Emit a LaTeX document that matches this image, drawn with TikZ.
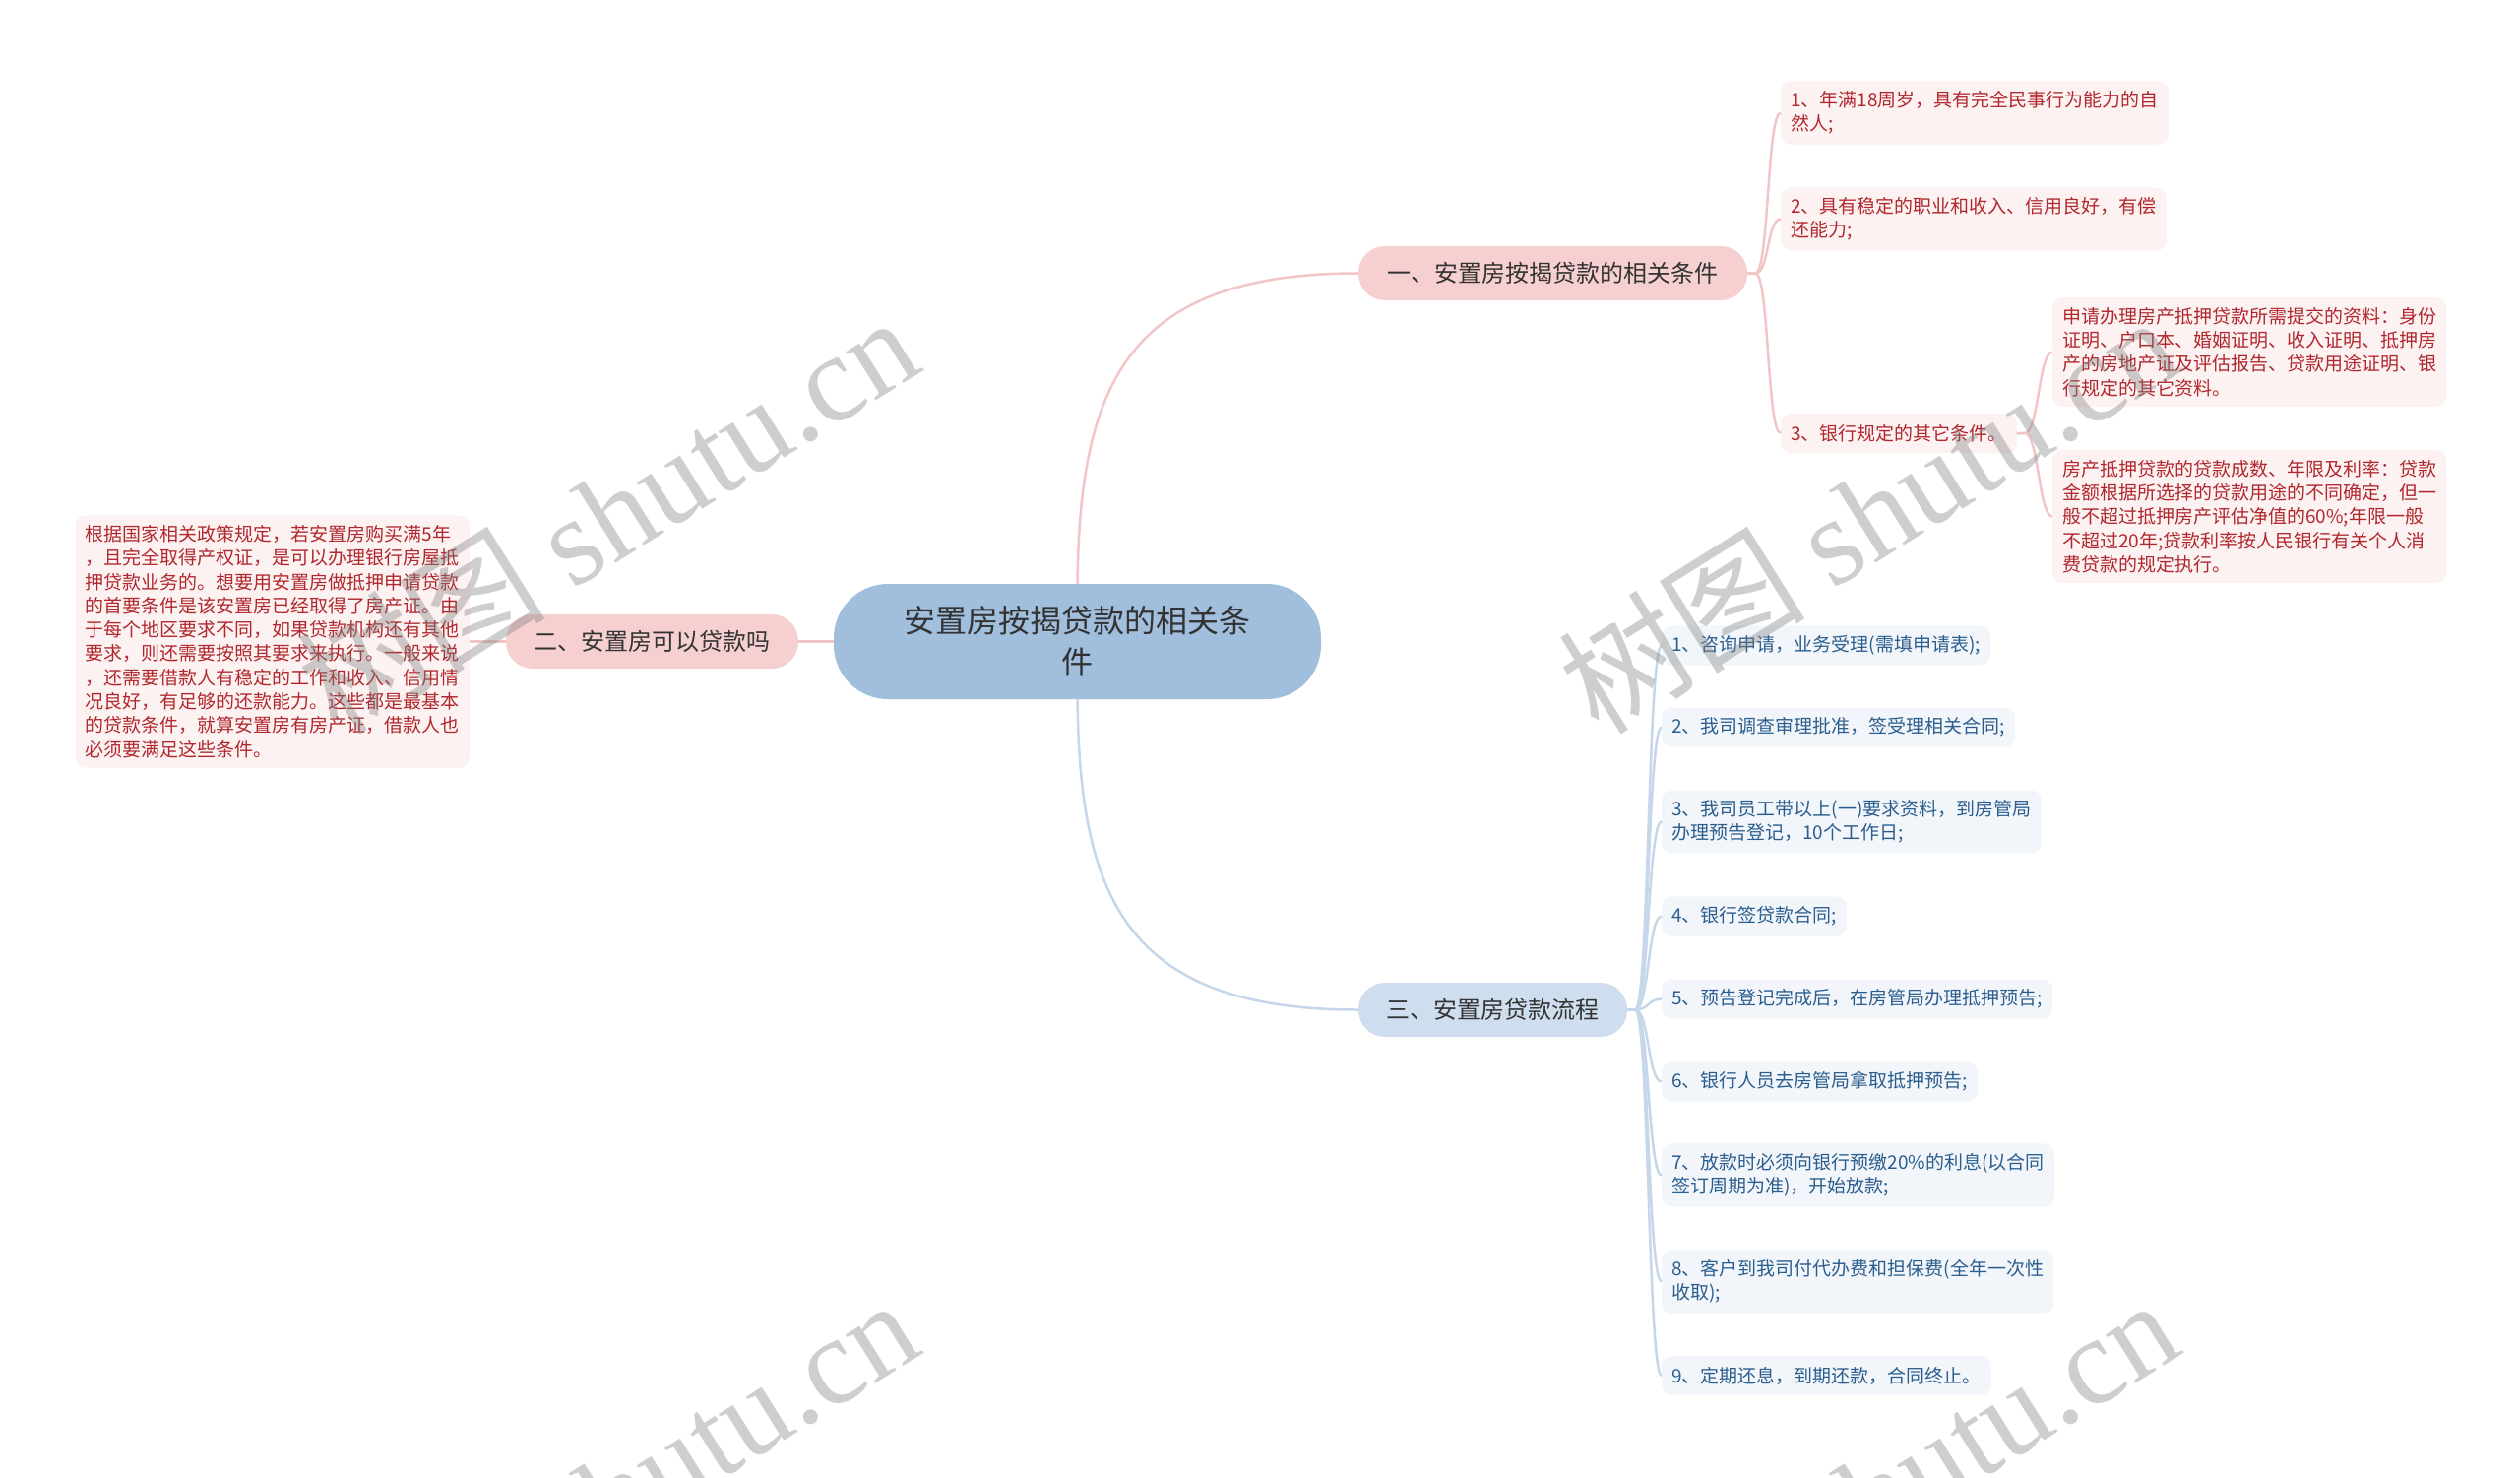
\documentclass[tikz,border=0pt]{standalone}
\usepackage{fontspec}
\setmainfont{Noto Sans CJK SC}
\newfontfamily\wmfont{Liberation Serif}
\definecolor{centerfill}{HTML}{A1BFDC}
\definecolor{pinkfill}{HTML}{F6CFD0}
\definecolor{bluefill}{HTML}{CEDEEE}
\definecolor{leafpink}{HTML}{FDF2F2}
\definecolor{leafblue}{HTML}{F2F6FB}
\definecolor{redtext}{HTML}{B0282D}
\definecolor{bluetext}{HTML}{2B5E8E}
\definecolor{pinkline}{HTML}{F2C6C6}
\definecolor{blueline}{HTML}{C5D7E9}
\definecolor{darktext}{HTML}{333333}
\begin{document}
\begin{tikzpicture}[x=1pt,y=-1pt,
  centerbox/.style={fill=centerfill, text=darktext, rounded corners=55pt, minimum width=495pt, minimum height=117pt, align=center, font=\fontsize{32}{42}\selectfont},
  branchp/.style={fill=pinkfill, text=darktext, rounded corners=27pt, minimum height=55pt, font=\fontsize{24}{28}\selectfont},
  branchb/.style={fill=bluefill, text=darktext, rounded corners=27pt, minimum height=55pt, font=\fontsize{24}{28}\selectfont},
  leafp/.style={fill=leafpink, text=redtext, rounded corners=10pt, inner xsep=10pt, inner ysep=10pt, minimum height=40pt, align=left, anchor=west, font=\fontsize{19}{24.3}\selectfont},
  leafb/.style={fill=leafblue, text=bluetext, rounded corners=10pt, inner xsep=10pt, inner ysep=10pt, minimum height=40pt, align=left, anchor=west, font=\fontsize{19}{24.3}\selectfont},
  pconn/.style={draw=pinkline, line width=2.5pt},
  bconn/.style={draw=blueline, line width=2.5pt},
  wm/.style={text=gray, opacity=0.38, rotate=32, font=\fontsize{126}{126}\selectfont}
]
\useasboundingbox[fill=white] (0,0) rectangle (2560,1500);

% nodes
\node[centerbox] (c) at (1094.5,651.5) {安置房按揭贷款的相关条\\件};
\node[branchp, minimum width=395pt] (b1) at (1577.5,277.5) {一、安置房按揭贷款的相关条件};
\node[branchp, minimum width=297pt] (b2) at (662.5,651.5) {二、安置房可以贷款吗};
\node[branchb, minimum width=273pt] (b3) at (1516.5,1025.5) {三、安置房贷款流程};

\node[leafp] (l1) at (1809,114.5) {1、年满18周岁，具有完全民事行为能力的自\\然人;};
\node[leafp] (l2) at (1809,222.5) {2、具有稳定的职业和收入、信用良好，有偿\\还能力;};
\node[leafp] (l3) at (1809,440) {3、银行规定的其它条件。};
\node[leafp] (la) at (2085,357.5) {申请办理房产抵押贷款所需提交的资料：身份\\证明、户口本、婚姻证明、收入证明、抵押房\\产的房地产证及评估报告、贷款用途证明、银\\行规定的其它资料。};
\node[leafp] (lb) at (2085,524.5) {房产抵押贷款的贷款成数、年限及利率：贷款\\金额根据所选择的贷款用途的不同确定，但一\\般不超过抵押房产评估净值的60\%;年限一般\\不超过20年;贷款利率按人民银行有关个人消\\费贷款的规定执行。};

\node[leafp, anchor=east] (m1) at (477,651.5) {根据国家相关政策规定，若安置房购买满5年\\，且完全取得产权证，是可以办理银行房屋抵\\押贷款业务的。想要用安置房做抵押申请贷款\\的首要条件是该安置房已经取得了房产证。由\\于每个地区要求不同，如果贷款机构还有其他\\要求，则还需要按照其要求来执行。一般来说\\，还需要借款人有稳定的工作和收入、信用情\\况良好，有足够的还款能力。这些都是最基本\\的贷款条件，就算安置房有房产证，借款人也\\必须要满足这些条件。};

\node[leafb] (s1) at (1688,655.5) {1、咨询申请，业务受理(需填申请表);};
\node[leafb] (s2) at (1688,738.5) {2、我司调查审理批准，签受理相关合同;};
\node[leafb] (s3) at (1688,834.5) {3、我司员工带以上(一)要求资料，到房管局\\办理预告登记，10个工作日;};
\node[leafb] (s4) at (1688,930.5) {4、银行签贷款合同;};
\node[leafb] (s5) at (1688,1014.5) {5、预告登记完成后，在房管局办理抵押预告;};
\node[leafb] (s6) at (1688,1098.5) {6、银行人员去房管局拿取抵押预告;};
\node[leafb] (s7) at (1688,1193.5) {7、放款时必须向银行预缴20\%的利息(以合同\\签订周期为准)，开始放款;};
\node[leafb] (s8) at (1688,1301.5) {8、客户到我司付代办费和担保费(全年一次性\\收取);};
\node[leafb] (s9) at (1688,1397) {9、定期还息，到期还款，合同终止。};

% connectors
\draw[pconn] (c.north) .. controls (1097,392) and (1143,277.5) .. (b1.west);
\draw[bconn] (c.south) .. controls (1097,911) and (1143,1025.5) .. (b3.west);
\draw[pconn] (c.west) -- (b2.east);
\draw[pconn] (b2.west) -- (m1.east);
\foreach \t in {l1,l2,l3}{
  \draw[pconn] (b1.east) -- ++(8,0) .. controls +(14,0) and +(-14,0) .. (\t.west);
}
\foreach \t in {la,lb}{
  \draw[pconn] (l3.east) -- ++(8,0) .. controls +(14,0) and +(-14,0) .. (\t.west);
}
\foreach \t in {s1,s2,s3,s4,s5,s6,s7,s8,s9}{
  \draw[bconn] (b3.east) -- ++(8,0) .. controls +(14,0) and +(-14,0) .. (\t.west);
}

% watermarks
\begin{scope}
\clip (0,0) rectangle (2560,1500);
\node[wm] (w1) at (617,521) {树图 {\wmfont shutu.cn}};
\node[wm] (w2) at (1897,521) {树图 {\wmfont shutu.cn}};
\node[wm] (w3) at (617,1519) {树图 {\wmfont shutu.cn}};
\node[wm] (w4) at (1897,1519) {树图 {\wmfont shutu.cn}};
\end{scope}
\end{tikzpicture}
\end{document}
